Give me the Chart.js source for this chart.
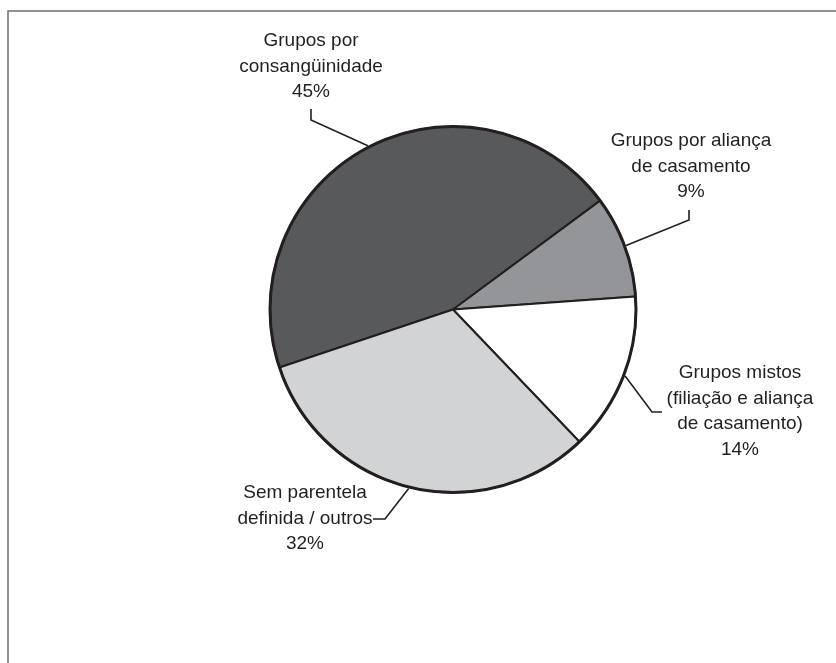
<!DOCTYPE html>
<html lang="pt">
<head>
<meta charset="utf-8">
<title>Grupos de parentesco</title>
<script src="https://cdn.jsdelivr.net/npm/chart.js@4/dist/chart.umd.min.js"></script>
<style>
  html, body { margin: 0; padding: 0; background: #fff; }
  #wrap { position: relative; width: 836px; height: 663px; }
</style>
</head>
<body>
<div id="wrap"><canvas id="grupos-chart"></canvas></div>
<script>
// categorias e percentuais
const categorias = [
  ['Grupos por', 'consangüinidade'],
  ['Grupos por aliança', 'de casamento'],
  ['Grupos mistos', '(filiação e aliança', 'de casamento)'],
  ['Sem parentela', 'definida / outros']
];
const percentuais = [45, 9, 14, 32];
const cores = ['#58595b', '#939598', '#ffffff', '#d1d3d4'];

// onde fica cada rótulo e o cotovelo da linha de chamada
const posRotulos = [
  { x: 311, y: 46, cotovelo: [311, 120], fim: [311, 109] },
  { x: 691, y: 146, cotovelo: [689, 220], fim: [689, 210] },
  { x: 740, y: 378, cotovelo: [652, 412], fim: [662, 412] },
  { x: 305, y: 498, cotovelo: [385, 519], fim: [373, 519] }
];

const corTexto = '#231f20';

// moldura: linha de cima e da esquerda
const moldura = {
  id: 'moldura',
  beforeDraw(chart) {
    const ctx = chart.ctx;
    ctx.save();
    ctx.strokeStyle = '#6f6f6f';
    ctx.lineWidth = 1.5;
    ctx.beginPath();
    ctx.moveTo(8, chart.height);
    ctx.lineTo(8, 11);
    ctx.lineTo(chart.width, 11);
    ctx.stroke();
    ctx.restore();
  }
};

// contorno grosso da pizza + rótulos com linhas de chamada
const rotulos = {
  id: 'rotulos',
  afterDatasetsDraw(chart) {
    const ctx = chart.ctx;
    const arcs = chart.getDatasetMeta(0).data;
    const a0 = arcs[0];

    ctx.save();
    ctx.strokeStyle = corTexto;
    ctx.lineWidth = 3;
    ctx.beginPath();
    ctx.arc(a0.x, a0.y, a0.outerRadius, 0, Math.PI * 2);
    ctx.stroke();

    ctx.font = '19px "Liberation Sans", Arial, sans-serif';
    ctx.fillStyle = corTexto;
    ctx.textAlign = 'center';
    ctx.textBaseline = 'alphabetic';
    ctx.lineWidth = 1.6;

    arcs.forEach((arc, i) => {
      const p = posRotulos[i];
      const meio = (arc.startAngle + arc.endAngle) / 2;
      const r = arc.outerRadius + 1.5;
      const ax = arc.x + Math.cos(meio) * r;
      const ay = arc.y + Math.sin(meio) * r;

      ctx.beginPath();
      ctx.moveTo(ax, ay);
      ctx.lineTo(p.cotovelo[0], p.cotovelo[1]);
      ctx.lineTo(p.fim[0], p.fim[1]);
      ctx.stroke();

      const linhas = categorias[i].concat([percentuais[i] + '%']);
      linhas.forEach((txt, j) => {
        ctx.fillText(txt, p.x, p.y + j * 25.7);
      });
    });
    ctx.restore();
  }
};

const ctx = document.getElementById('grupos-chart').getContext('2d');
new Chart(ctx, {
  type: 'pie',
  data: {
    labels: categorias,
    datasets: [{
      data: percentuais,
      backgroundColor: cores,
      borderColor: corTexto,
      borderWidth: 2
    }]
  },
  options: {
    responsive: true,
    maintainAspectRatio: false,
    animation: false,
    rotation: -108.5,
    radius: 183,
    layout: { padding: { left: 90, right: 20, top: 20, bottom: 64 } },
    plugins: {
      legend: { display: false },
      tooltip: { enabled: false }
    }
  },
  plugins: [moldura, rotulos]
});
</script>
</body>
</html>
